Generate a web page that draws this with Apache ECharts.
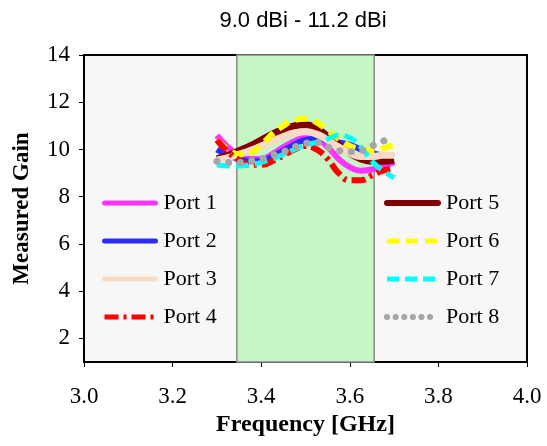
<!DOCTYPE html>
<html>
<head>
<meta charset="utf-8">
<script src="https://cdn.jsdelivr.net/npm/echarts@6/dist/echarts.min.js"></script>
<style>
  html, body { margin: 0; padding: 0; background: #fff; }
  #chart { width: 547px; height: 446px; }
</style>
</head>
<body>
<div id="chart"></div>
<script>
// frequency points (GHz)
const freq = [3.30, 3.325, 3.35, 3.375, 3.40, 3.425, 3.45, 3.475, 3.50, 3.525, 3.55, 3.575, 3.60, 3.625, 3.65, 3.675, 3.70]

// measured gain per port (dBi)
const port1 = [10.6, 10.1, 9.75, 9.6, 9.6, 9.8, 10.1, 10.35, 10.5, 10.45, 10.1, 9.6, 9.25, 9.1, 9.15, 9.3, 9.45]
const port2 = [10.0, 9.75, 9.6, 9.5, 9.5, 9.7, 9.95, 10.2, 10.4, 10.45, 10.4, 10.3, 10.2, 10.0, 9.85, 9.75, 9.7]
const port3 = [9.55, 9.65, 9.8, 9.95, 10.15, 10.35, 10.55, 10.7, 10.75, 10.65, 10.4, 10.1, 9.85, 9.7, 9.7, 9.75, 9.75]
const port4 = [10.4, 9.9, 9.55, 9.35, 9.35, 9.5, 9.75, 10.0, 10.15, 10.0, 9.6, 9.0, 8.7, 8.7, 8.9, 9.1, 9.2]
const port5 = [9.6, 9.75, 9.95, 10.15, 10.4, 10.65, 10.85, 11.0, 11.05, 10.9, 10.55, 10.2, 9.85, 9.6, 9.5, 9.5, 9.55]
const port6 = [10.4, 10.0, 9.8, 9.85, 10.2, 10.65, 11.0, 11.25, 11.3, 11.15, 10.8, 10.45, 10.15, 10.0, 9.95, 10.05, 10.2]
const port7 = [9.35, 9.3, 9.3, 9.35, 9.45, 9.6, 9.8, 10.0, 10.2, 10.3, 10.45, 10.6, 10.5, 10.1, 9.5, 9.1, 8.8]
const port8 = [9.5, 9.45, 9.45, 9.5, 9.6, 9.75, 9.9, 10.1, 10.25, 10.3, 10.1, 9.95, 9.9, 9.95, 10.15, 10.35, 10.55]

// shaded band edges (GHz)
const bandEdges = [3.345, 3.655]

const yTicks = [2, 4, 6, 8, 10, 12, 14]

const pairs = (vals) => freq.map((f, i) => [f, vals[i]])

const serif = 'Liberation Serif'

const chart = echarts.init(document.getElementById('chart'))

const mkLine = (name, vals, color, width, type, z, cap) => ({
  name: name,
  type: 'line',
  smooth: 0.5,
  symbol: 'none',
  z: z,
  lineStyle: { color: color, width: width, type: type, cap: cap || 'butt' },
  itemStyle: { color: color },
  data: pairs(vals)
})

const legendText = { fontFamily: serif, fontSize: 22, color: '#000', lineHeight: 22, padding: [0, 0, 0, 3] }

const legendBase = {
  orient: 'vertical',
  top: 192,
  padding: 0,
  itemWidth: 51,
  itemHeight: 22,
  itemGap: 16,
  itemStyle: { opacity: 0 },
  textStyle: legendText
}

const option = {
  animation: false,
  title: {
    text: '9.0 dBi - 11.2 dBi',
    left: 303,
    top: 10,
    padding: 0,
    textAlign: 'center',
    textStyle: { fontFamily: 'Liberation Sans', fontSize: 22, fontWeight: 'normal', color: '#000' }
  },
  grid: {
    left: 84,
    right: 20,
    top: 55,
    bottom: 84,
    show: true,
    backgroundColor: '#f7f7f7',
    borderColor: '#000',
    borderWidth: 2
  },
  legend: [
    Object.assign({}, legendBase, {
      left: 102,
      data: [
        { name: 'Port 1', lineStyle: { width: 5, type: 'solid', cap: 'round' } },
        { name: 'Port 2', lineStyle: { width: 5, type: 'solid', cap: 'round' } },
        { name: 'Port 3', lineStyle: { width: 5, type: 'solid', cap: 'round' } },
        { name: 'Port 4', lineStyle: { width: 5, type: [14, 5, 3, 5] } }
      ]
    }),
    Object.assign({}, legendBase, {
      left: 384,
      data: [
        { name: 'Port 5', lineStyle: { width: 6, type: 'solid', cap: 'round' } },
        { name: 'Port 6', lineStyle: { width: 5, type: [12, 7] } },
        { name: 'Port 7', lineStyle: { width: 5, type: [12, 6] } },
        { name: 'Port 8', lineStyle: { width: 6, type: [0.1, 8.5], cap: 'round' } }
      ]
    })
  ],
  xAxis: {
    type: 'value',
    min: 3,
    max: 4,
    interval: 0.2,
    name: 'Frequency [GHz]',
    nameLocation: 'middle',
    nameGap: 50,
    nameTextStyle: { fontFamily: serif, fontSize: 24, fontWeight: 'bold', color: '#000' },
    axisLine: { lineStyle: { color: '#000', width: 2 } },
    axisTick: { show: true, length: 5, lineStyle: { color: '#000', width: 1 } },
    axisLabel: {
      margin: 23,
      fontFamily: serif,
      fontSize: 23,
      color: '#000',
      formatter: (v) => v.toFixed(1)
    },
    splitLine: { show: false }
  },
  yAxis: {
    type: 'value',
    min: 1,
    max: 14,
    interval: 1,
    name: 'Measured Gain',
    nameLocation: 'middle',
    nameGap: 50,
    nameTextStyle: { fontFamily: serif, fontSize: 23, fontWeight: 'bold', color: '#000' },
    axisLine: { show: true, lineStyle: { color: '#000', width: 2 } },
    axisTick: { show: true, length: 5, customValues: yTicks, lineStyle: { color: '#000', width: 1 } },
    axisLabel: {
      margin: 14,
      fontFamily: serif,
      fontSize: 23,
      color: '#000',
      customValues: yTicks
    },
    splitLine: { show: false }
  },
  series: [
    {
      name: 'band',
      type: 'line',
      data: [],
      z: 1,
      silent: true,
      markArea: {
        silent: true,
        itemStyle: { color: '#c6f5c6', borderColor: '#8a8a8a', borderWidth: 1.5 },
        data: [[{ xAxis: bandEdges[0] }, { xAxis: bandEdges[1] }]]
      }
    },
    mkLine('Port 1', port1, '#ff33ff', 6, 'solid', 2),
    mkLine('Port 2', port2, '#2b2bff', 6, 'solid', 3),
    mkLine('Port 5', port5, '#800000', 7, 'solid', 4),
    mkLine('Port 3', port3, '#f8dac6', 7, 'solid', 5),
    mkLine('Port 6', port6, '#ffff00', 6, [12, 7], 6),
    mkLine('Port 4', port4, '#ff0000', 6, [14, 5, 3, 5], 7),
    mkLine('Port 7', port7, '#00ffff', 5, [13, 6], 8),
    mkLine('Port 8', port8, '#a6a6a6', 7, [0.1, 11.5], 9, 'round')
  ]
}

chart.setOption(option)
</script>
</body>
</html>
